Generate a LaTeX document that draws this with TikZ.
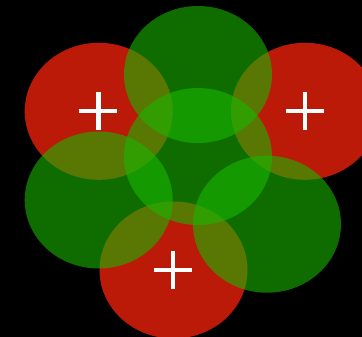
\documentclass[tikz,border=0pt]{standalone}
\definecolor{redc}{RGB}{187,26,8}
\definecolor{greenc}{RGB}{25,183,0}
\tikzset{
  redblob/.style={fill=redc},
  greenblob/.style={fill=greenc,fill opacity=0.6},
  plusmark/.style={draw=white,line width=4.3pt}
}
\begin{document}
\begin{tikzpicture}[x=1pt,y=-1pt]
\fill[black] (0,0) rectangle (362,337);
\useasboundingbox (0,0) rectangle (362,337);
% red ellipses (below)
\fill[redblob] (98.7,111.3) ellipse [x radius=74, y radius=68.5];
\fill[redblob] (305,111.3) ellipse [x radius=74, y radius=68.5];
\fill[redblob] (173.5,270) ellipse [x radius=74, y radius=68.5];
% green ellipses (translucent, above)
\fill[greenblob] (198,74.5) ellipse [x radius=74, y radius=68.5];
\fill[greenblob] (198,156.5) ellipse [x radius=74, y radius=68.5];
\fill[greenblob] (98.7,200) ellipse [x radius=74, y radius=68.5];
\fill[greenblob] (267,224.2) ellipse [x radius=74, y radius=68.5];
% plus signs
\foreach \cx/\cy in {98.4/111.2, 305/111.2, 173.2/270}{
  \draw[plusmark] (\cx-19,\cy) -- (\cx+19,\cy);
  \draw[plusmark] (\cx,\cy-19) -- (\cx,\cy+19);
}
\end{tikzpicture}
\end{document}
